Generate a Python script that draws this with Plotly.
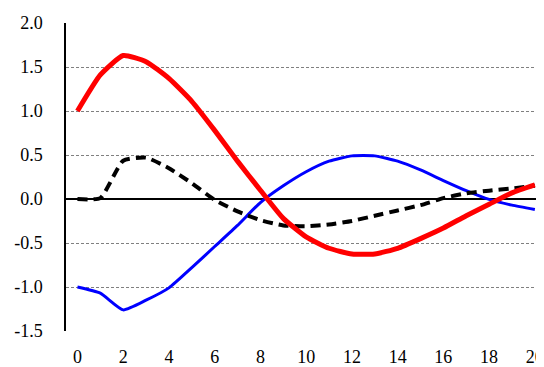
import plotly.graph_objects as go

x = list(range(21))
red = [1.0, 1.41, 1.63, 1.56, 1.37, 1.11, 0.78, 0.43, 0.10, -0.22, -0.43, -0.56, -0.625, -0.625, -0.56, -0.45, -0.33, -0.19, -0.06, 0.07, 0.16]
blue = [-1.0, -1.07, -1.26, -1.15, -1.01, -0.78, -0.54, -0.30, -0.04, 0.15, 0.31, 0.43, 0.49, 0.49, 0.43, 0.33, 0.21, 0.095, -0.005, -0.07, -0.12]
black = [0.0, 0.01, 0.435, 0.47, 0.35, 0.18, -0.01, -0.14, -0.24, -0.30, -0.31, -0.29, -0.25, -0.19, -0.13, -0.07, 0.01, 0.065, 0.095, 0.12, 0.15]
yticks = [-1.5, -1.0, -0.5, 0.0, 0.5, 1.0, 1.5, 2.0]
xticks = list(range(0, 21, 2))

fig = go.Figure()
fig.add_trace(go.Scatter(x=x, y=blue, mode="lines", line=dict(color="#0000FF", width=3, shape="spline", smoothing=0.5)))
fig.add_trace(go.Scatter(x=x, y=black, mode="lines", line=dict(color="#000000", width=4, dash="10px,6px", shape="spline", smoothing=0.5)))
fig.add_trace(go.Scatter(x=x, y=red, mode="lines", line=dict(color="#FF0000", width=5, shape="spline", smoothing=0.5)))

font = dict(family="Times New Roman, Liberation Serif, DejaVu Serif, serif", size=18, color="#000000")
fig.update_layout(
    width=544, height=367,
    margin=dict(l=58, r=8, t=15, b=44, autoexpand=False),
    paper_bgcolor="white", plot_bgcolor="white",
    showlegend=False,
    font=font,
)
fig.update_xaxes(
    range=[-0.5, 20.4], tickvals=xticks, ticktext=[str(v) for v in xticks],
    showgrid=False, zeroline=False, showline=False, automargin=False,
    ticks="outside", ticklen=9, tickcolor="rgba(0,0,0,0)", tickfont=font,
)
fig.update_yaxes(
    range=[-1.5, 2.0], tickvals=yticks, ticktext=[f"{v:.1f}" for v in yticks],
    showgrid=True, gridcolor="#808080", gridwidth=1, griddash="3px,2px",
    zeroline=True, zerolinecolor="#000000", zerolinewidth=1.5,
    showline=True, linecolor="#000000", linewidth=1.5, automargin=False,
    ticks="outside", ticklen=18, tickcolor="rgba(0,0,0,0)", tickfont=font,
)
fig.write_html("out.html")
